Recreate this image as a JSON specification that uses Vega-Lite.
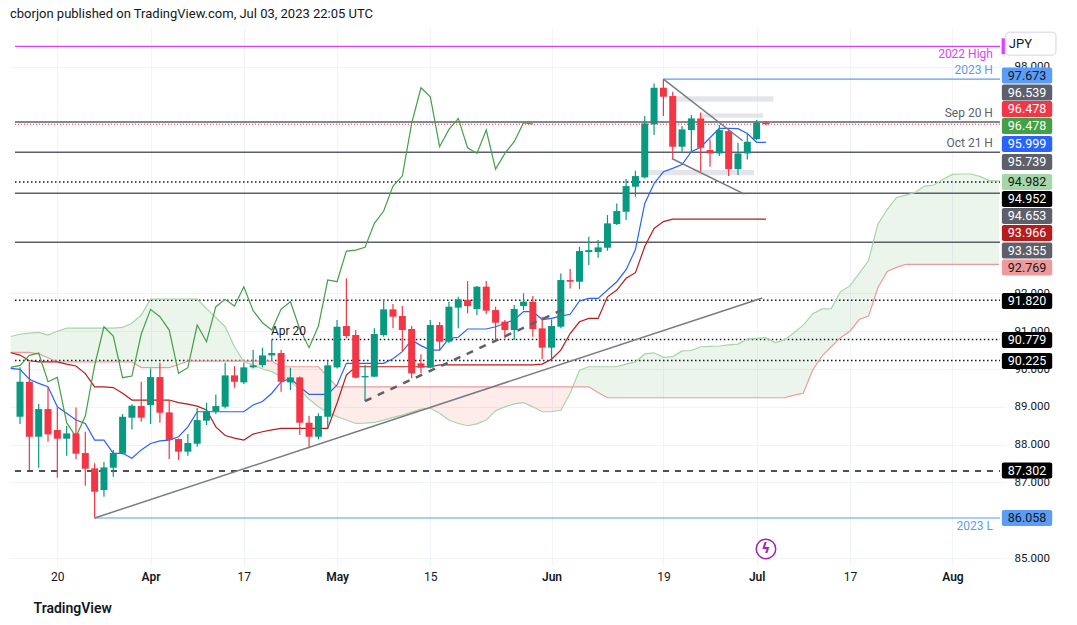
{
  "$schema": "https://vega.github.io/schema/vega-lite/v6.json",
  "width": 995,
  "height": 538,
  "autosize": {"type": "none"},
  "padding": {"left": 10, "top": 27, "right": 72, "bottom": 60},
  "background": "#ffffff",
  "title": {
    "text": "cborjon published on TradingView.com, Jul 03, 2023 22:05 UTC",
    "anchor": "start",
    "frame": "group",
    "offset": 6,
    "fontSize": 13,
    "fontWeight": "normal",
    "color": "#131722"
  },
  "config": {"view": {"stroke": null}, "font": "Roboto"},
  "resolve": {"scale": {"color": "independent"}},
  "datasets": {
    "candles": [
      {"i":1,"o":88.738,"h":90.044,"l":88.544,"c":89.664},
      {"i":2,"o":89.664,"h":90.194,"l":87.328,"c":88.209},
      {"i":3,"o":88.209,"h":89.074,"l":87.389,"c":88.941},
      {"i":4,"o":88.941,"h":89.515,"l":88.077,"c":88.271},
      {"i":5,"o":88.386,"h":88.985,"l":87.125,"c":88.156},
      {"i":6,"o":88.156,"h":88.492,"l":87.707,"c":88.297},
      {"i":7,"o":88.297,"h":88.985,"l":87.61,"c":87.76},
      {"i":8,"o":87.777,"h":88.342,"l":86.913,"c":87.363},
      {"i":9,"o":87.372,"h":87.504,"l":86.058,"c":86.754},
      {"i":10,"o":86.798,"h":87.539,"l":86.622,"c":87.398},
      {"i":11,"o":87.389,"h":87.857,"l":87.151,"c":87.777},
      {"i":12,"o":87.76,"h":88.809,"l":87.742,"c":88.738},
      {"i":13,"o":88.712,"h":89.065,"l":88.403,"c":89.029},
      {"i":14,"o":89.021,"h":89.664,"l":88.606,"c":88.712},
      {"i":15,"o":89.047,"h":90.017,"l":88.544,"c":89.788},
      {"i":16,"o":89.788,"h":90.167,"l":88.58,"c":88.844},
      {"i":17,"o":88.853,"h":89.179,"l":87.619,"c":88.121},
      {"i":18,"o":88.148,"h":88.16,"l":87.592,"c":87.813},
      {"i":19,"o":87.813,"h":88.28,"l":87.707,"c":88.042},
      {"i":20,"o":88.024,"h":88.968,"l":87.945,"c":88.65},
      {"i":21,"o":88.633,"h":89.109,"l":88.518,"c":88.88},
      {"i":22,"o":88.88,"h":89.329,"l":88.809,"c":89.021},
      {"i":23,"o":89.003,"h":90.167,"l":88.959,"c":89.832},
      {"i":24,"o":89.832,"h":90.079,"l":89.506,"c":89.664},
      {"i":25,"o":89.647,"h":90.167,"l":89.603,"c":90.044},
      {"i":26,"o":90.044,"h":90.502,"l":90.017,"c":90.097},
      {"i":27,"o":90.105,"h":90.564,"l":90.044,"c":90.361},
      {"i":28,"o":90.361,"h":90.779,"l":90.238,"c":90.423},
      {"i":29,"o":90.423,"h":90.502,"l":89.4,"c":89.664},
      {"i":30,"o":89.647,"h":90.035,"l":89.444,"c":89.779},
      {"i":31,"o":89.779,"h":89.8,"l":88.253,"c":88.58},
      {"i":32,"o":88.58,"h":88.765,"l":87.901,"c":88.209},
      {"i":33,"o":88.209,"h":88.827,"l":88.139,"c":88.756},
      {"i":34,"o":88.738,"h":90.211,"l":88.43,"c":90.097},
      {"i":35,"o":90.044,"h":91.296,"l":90.017,"c":91.119},
      {"i":36,"o":91.138,"h":92.399,"l":90.812,"c":90.873},
      {"i":37,"o":90.9,"h":91.032,"l":89.75,"c":89.771},
      {"i":38,"o":89.78,"h":90.115,"l":89.154,"c":89.815},
      {"i":39,"o":89.798,"h":91.076,"l":89.78,"c":90.926},
      {"i":40,"o":90.9,"h":91.852,"l":90.856,"c":91.579},
      {"i":41,"o":91.579,"h":91.72,"l":91.076,"c":91.385},
      {"i":42,"o":91.403,"h":91.667,"l":90.459,"c":91.032},
      {"i":43,"o":91.059,"h":91.138,"l":89.753,"c":89.886},
      {"i":44,"o":90.15,"h":90.388,"l":89.886,"c":90.036},
      {"i":45,"o":90.036,"h":91.297,"l":90.018,"c":91.164},
      {"i":46,"o":91.164,"h":91.244,"l":90.485,"c":90.724},
      {"i":47,"o":90.724,"h":91.782,"l":90.68,"c":91.649},
      {"i":48,"o":91.623,"h":91.914,"l":91.076,"c":91.843},
      {"i":49,"o":91.826,"h":92.328,"l":91.473,"c":91.667},
      {"i":50,"o":91.588,"h":92.196,"l":91.429,"c":92.179},
      {"i":51,"o":92.179,"h":92.328,"l":91.455,"c":91.544},
      {"i":52,"o":91.561,"h":91.649,"l":90.741,"c":91.226},
      {"i":53,"o":91.253,"h":91.297,"l":90.812,"c":91.032},
      {"i":54,"o":91.032,"h":91.694,"l":90.768,"c":91.588},
      {"i":55,"o":91.667,"h":92.002,"l":91.561,"c":91.782},
      {"i":56,"o":91.782,"h":91.932,"l":90.856,"c":91.059},
      {"i":57,"o":91.076,"h":91.385,"l":90.256,"c":90.565},
      {"i":58,"o":90.565,"h":91.314,"l":90.256,"c":91.138},
      {"i":59,"o":91.12,"h":92.531,"l":91.076,"c":92.355},
      {"i":60,"o":92.355,"h":92.646,"l":92.134,"c":92.311},
      {"i":61,"o":92.31,"h":93.236,"l":92.116,"c":93.122},
      {"i":62,"o":93.095,"h":93.501,"l":92.751,"c":93.148},
      {"i":63,"o":93.095,"h":93.413,"l":92.945,"c":93.219},
      {"i":64,"o":93.21,"h":94.074,"l":93.13,"c":93.854},
      {"i":65,"o":93.836,"h":94.383,"l":93.81,"c":94.18},
      {"i":66,"o":94.162,"h":95.026,"l":93.942,"c":94.841},
      {"i":67,"o":94.824,"h":95.247,"l":94.559,"c":95.106},
      {"i":68,"o":95.071,"h":96.693,"l":95.044,"c":96.499},
      {"i":69,"o":96.473,"h":97.557,"l":96.19,"c":97.443},
      {"i":70,"o":97.443,"h":97.673,"l":96.693,"c":97.205},
      {"i":71,"o":97.222,"h":97.337,"l":95.573,"c":95.882},
      {"i":72,"o":95.882,"h":96.429,"l":95.75,"c":96.34},
      {"i":73,"o":96.323,"h":96.72,"l":95.723,"c":96.631},
      {"i":74,"o":96.631,"h":96.79,"l":95.22,"c":95.855},
      {"i":75,"o":95.794,"h":96.076,"l":95.353,"c":95.705},
      {"i":76,"o":95.705,"h":96.455,"l":95.635,"c":96.323},
      {"i":77,"o":96.296,"h":96.367,"l":95.106,"c":95.291},
      {"i":78,"o":95.291,"h":95.988,"l":95.132,"c":95.705},
      {"i":79,"o":95.705,"h":96.234,"l":95.547,"c":96.014},
      {"i":80,"o":96.085,"h":96.587,"l":96.058,"c":96.52},
      {"i":81,"o":96.52,"h":96.56,"l":96.45,"c":96.478}
    ],
    "ichi": [
      {"i":0,"t":90.02,"k":90.43},{"i":1,"t":89.99,"k":90.37},{"i":2,"t":89.73,"k":90.22},
      {"i":3,"t":89.62,"k":90.19},{"i":4,"t":89.53,"k":90.19},{"i":5,"t":89.0,"k":90.19},
      {"i":6,"t":88.83,"k":90.13},{"i":7,"t":88.65,"k":90.08},{"i":8,"t":88.56,"k":89.88},
      {"i":9,"t":88.12,"k":89.53},{"i":10,"t":88.12,"k":89.53},{"i":11,"t":87.77,"k":89.51},
      {"i":12,"t":87.77,"k":89.36},{"i":13,"t":87.64,"k":89.18},{"i":14,"t":87.86,"k":89.18},
      {"i":15,"t":88.03,"k":89.18},{"i":16,"t":88.1,"k":89.18},{"i":17,"t":88.12,"k":89.18},
      {"i":18,"t":88.21,"k":89.11},{"i":19,"t":88.47,"k":89.07},{"i":20,"t":88.87,"k":89.02},
      {"i":21,"t":88.87,"k":88.92},{"i":22,"t":88.87,"k":88.47},{"i":23,"t":88.87,"k":88.24},
      {"i":24,"t":88.87,"k":88.17},{"i":25,"t":88.87,"k":88.12},{"i":26,"t":89.05,"k":88.28},
      {"i":27,"t":89.14,"k":88.34},{"i":28,"t":89.36,"k":88.39},{"i":29,"t":89.66,"k":88.43},
      {"i":30,"t":89.75,"k":88.43},{"i":31,"t":89.53,"k":88.43},{"i":32,"t":89.33,"k":88.43},
      {"i":33,"t":89.33,"k":88.43},{"i":34,"t":89.33,"k":88.43},{"i":35,"t":89.58,"k":89.1},
      {"i":36,"t":90.15,"k":89.84},{"i":37,"t":90.15,"k":90.06},{"i":38,"t":90.15,"k":90.06},
      {"i":39,"t":90.15,"k":90.06},{"i":40,"t":90.15,"k":90.06},{"i":41,"t":90.27,"k":90.06},
      {"i":42,"t":90.46,"k":90.06},{"i":43,"t":90.77,"k":90.06},{"i":44,"t":90.62,"k":90.06},
      {"i":45,"t":90.5,"k":90.06},{"i":46,"t":90.5,"k":90.11},{"i":47,"t":90.81,"k":90.11},
      {"i":48,"t":90.84,"k":90.11},{"i":49,"t":91.06,"k":90.11},{"i":50,"t":91.06,"k":90.11},
      {"i":51,"t":91.06,"k":90.11},{"i":52,"t":91.12,"k":90.11},{"i":53,"t":91.21,"k":90.11},
      {"i":54,"t":91.3,"k":90.11},{"i":55,"t":91.52,"k":90.11},{"i":56,"t":91.52,"k":90.11},
      {"i":57,"t":91.31,"k":90.13},{"i":58,"t":91.34,"k":90.26},{"i":59,"t":91.4,"k":90.5},
      {"i":60,"t":91.45,"k":90.94},{"i":61,"t":91.8,"k":91.25},{"i":62,"t":91.87,"k":91.34},
      {"i":63,"t":91.87,"k":91.34},{"i":64,"t":92.09,"k":91.91},{"i":65,"t":92.31,"k":92.09},
      {"i":66,"t":92.63,"k":92.4},{"i":67,"t":93.16,"k":92.55},{"i":68,"t":94.38,"k":93.24},
      {"i":69,"t":94.91,"k":93.72},{"i":70,"t":95.22,"k":93.9},{"i":71,"t":95.31,"k":93.966},
      {"i":72,"t":95.41,"k":93.966},{"i":73,"t":95.75,"k":93.966},{"i":74,"t":95.87,"k":93.966},
      {"i":75,"t":96.12,"k":93.966},{"i":76,"t":96.37,"k":93.966},{"i":77,"t":96.37,"k":93.966},
      {"i":78,"t":96.36,"k":93.966},{"i":79,"t":96.23,"k":93.966},{"i":80,"t":95.999,"k":93.966},
      {"i":81,"t":95.999,"k":93.966}
    ],
    "lag": [
      {"i":0,"v":90.044},{"i":1,"v":90.097},{"i":2,"v":90.361},{"i":3,"v":90.423},{"i":4,"v":89.664},
      {"i":5,"v":89.779},{"i":6,"v":88.58},{"i":7,"v":88.209},{"i":8,"v":88.756},{"i":9,"v":90.097},
      {"i":10,"v":91.119},{"i":11,"v":90.873},{"i":12,"v":89.771},{"i":13,"v":89.815},{"i":14,"v":90.926},
      {"i":15,"v":91.579},{"i":16,"v":91.385},{"i":17,"v":91.032},{"i":18,"v":89.886},{"i":19,"v":90.036},
      {"i":20,"v":91.164},{"i":21,"v":90.724},{"i":22,"v":91.649},{"i":23,"v":91.843},{"i":24,"v":91.667},
      {"i":25,"v":92.179},{"i":26,"v":91.544},{"i":27,"v":91.226},{"i":28,"v":91.032},{"i":29,"v":91.588},
      {"i":30,"v":91.782},{"i":31,"v":91.059},{"i":32,"v":90.565},{"i":33,"v":91.138},{"i":34,"v":92.355},
      {"i":35,"v":92.311},{"i":36,"v":93.122},{"i":37,"v":93.148},{"i":38,"v":93.219},{"i":39,"v":93.854},
      {"i":40,"v":94.18},{"i":41,"v":94.841},{"i":42,"v":95.106},{"i":43,"v":96.499},{"i":44,"v":97.443},
      {"i":45,"v":97.205},{"i":46,"v":95.882},{"i":47,"v":96.34},{"i":48,"v":96.631},{"i":49,"v":95.855},
      {"i":50,"v":95.705},{"i":51,"v":96.323},{"i":52,"v":95.291},{"i":53,"v":95.705},{"i":54,"v":96.014},
      {"i":55,"v":96.52},{"i":56,"v":96.478}
    ],
    "cloud": [
      {"i":0,"a":90.86,"b":90.44,"seg":"g1"},{"i":1,"a":90.92,"b":90.44,"seg":"g1"},
      {"i":2,"a":90.95,"b":90.44,"seg":"g1"},{"i":3,"a":90.97,"b":90.4,"seg":"g1"},
      {"i":4,"a":90.9,"b":90.3,"seg":"g1"},{"i":5,"a":91.0,"b":90.19,"seg":"g1"},
      {"i":6,"a":91.08,"b":90.19,"seg":"g1"},{"i":7,"a":91.08,"b":90.19,"seg":"g1"},
      {"i":8,"a":91.08,"b":90.19,"seg":"g1"},{"i":9,"a":91.08,"b":90.19,"seg":"g1"},
      {"i":10,"a":91.08,"b":90.19,"seg":"g1"},{"i":11,"a":91.08,"b":90.19,"seg":"g1"},
      {"i":12,"a":91.1,"b":90.19,"seg":"g1"},{"i":13,"a":91.21,"b":90.19,"seg":"g1"},
      {"i":14,"a":91.43,"b":90.04,"seg":"g1"},{"i":15,"a":91.85,"b":90.04,"seg":"g1"},
      {"i":16,"a":91.85,"b":90.04,"seg":"g1"},{"i":17,"a":91.85,"b":90.04,"seg":"g1"},
      {"i":18,"a":91.85,"b":90.12,"seg":"g1"},{"i":19,"a":91.85,"b":90.21,"seg":"g1"},
      {"i":20,"a":91.85,"b":90.21,"seg":"g1"},{"i":21,"a":91.6,"b":90.21,"seg":"g1"},
      {"i":22,"a":91.36,"b":90.21,"seg":"g1"},{"i":23,"a":91.12,"b":90.21,"seg":"g1"},
      {"i":24,"a":90.59,"b":90.21,"seg":"g1"},{"i":25,"a":90.19,"b":90.21,"seg":"g1"},
      {"i":25,"a":90.19,"b":90.21,"seg":"r"},{"i":26,"a":90.11,"b":90.21,"seg":"r"},
      {"i":27,"a":90.0,"b":90.21,"seg":"r"},{"i":28,"a":89.93,"b":90.21,"seg":"r"},
      {"i":29,"a":89.8,"b":90.06,"seg":"r"},{"i":30,"a":89.68,"b":90.06,"seg":"r"},
      {"i":31,"a":89.45,"b":90.06,"seg":"r"},{"i":32,"a":89.2,"b":90.06,"seg":"r"},
      {"i":33,"a":89.0,"b":90.06,"seg":"r"},{"i":34,"a":88.85,"b":89.8,"seg":"r"},
      {"i":35,"a":88.74,"b":89.53,"seg":"r"},{"i":36,"a":88.65,"b":89.53,"seg":"r"},
      {"i":37,"a":88.56,"b":89.53,"seg":"r"},{"i":38,"a":88.57,"b":89.53,"seg":"r"},
      {"i":39,"a":88.59,"b":89.53,"seg":"r"},{"i":40,"a":88.65,"b":89.53,"seg":"r"},
      {"i":41,"a":88.72,"b":89.53,"seg":"r"},{"i":42,"a":88.78,"b":89.53,"seg":"r"},
      {"i":43,"a":88.86,"b":89.53,"seg":"r"},{"i":44,"a":88.94,"b":89.53,"seg":"r"},
      {"i":45,"a":88.96,"b":89.53,"seg":"r"},{"i":46,"a":88.83,"b":89.53,"seg":"r"},
      {"i":47,"a":88.65,"b":89.53,"seg":"r"},{"i":48,"a":88.56,"b":89.53,"seg":"r"},
      {"i":49,"a":88.5,"b":89.53,"seg":"r"},{"i":50,"a":88.55,"b":89.53,"seg":"r"},
      {"i":51,"a":88.65,"b":89.53,"seg":"r"},{"i":52,"a":88.9,"b":89.53,"seg":"r"},
      {"i":53,"a":89.0,"b":89.53,"seg":"r"},{"i":54,"a":89.08,"b":89.53,"seg":"r"},
      {"i":55,"a":89.11,"b":89.53,"seg":"r"},{"i":56,"a":89.0,"b":89.53,"seg":"r"},
      {"i":57,"a":88.87,"b":89.53,"seg":"r"},{"i":58,"a":88.87,"b":89.53,"seg":"r"},
      {"i":59,"a":88.91,"b":89.53,"seg":"r"},{"i":60,"a":89.36,"b":89.53,"seg":"r"},
      {"i":60,"a":89.36,"b":89.53,"seg":"g2"},{"i":61,"a":89.97,"b":89.53,"seg":"g2"},
      {"i":62,"a":90.06,"b":89.53,"seg":"g2"},{"i":63,"a":90.06,"b":89.38,"seg":"g2"},
      {"i":64,"a":90.06,"b":89.24,"seg":"g2"},{"i":65,"a":90.06,"b":89.24,"seg":"g2"},
      {"i":66,"a":90.13,"b":89.24,"seg":"g2"},{"i":67,"a":90.19,"b":89.24,"seg":"g2"},
      {"i":68,"a":90.4,"b":89.24,"seg":"g2"},{"i":69,"a":90.43,"b":89.24,"seg":"g2"},
      {"i":70,"a":90.31,"b":89.24,"seg":"g2"},{"i":71,"a":90.33,"b":89.24,"seg":"g2"},
      {"i":72,"a":90.48,"b":89.24,"seg":"g2"},{"i":73,"a":90.49,"b":89.24,"seg":"g2"},
      {"i":74,"a":90.59,"b":89.24,"seg":"g2"},{"i":75,"a":90.6,"b":89.24,"seg":"g2"},
      {"i":76,"a":90.61,"b":89.24,"seg":"g2"},{"i":77,"a":90.64,"b":89.24,"seg":"g2"},
      {"i":78,"a":90.66,"b":89.24,"seg":"g2"},{"i":79,"a":90.79,"b":89.24,"seg":"g2"},
      {"i":80,"a":90.81,"b":89.24,"seg":"g2"},{"i":81,"a":90.83,"b":89.24,"seg":"g2"},
      {"i":82,"a":90.7,"b":89.24,"seg":"g2"},{"i":83,"a":90.77,"b":89.24,"seg":"g2"},
      {"i":84,"a":90.96,"b":89.31,"seg":"g2"},{"i":85,"a":91.16,"b":89.36,"seg":"g2"},
      {"i":86,"a":91.46,"b":89.97,"seg":"g2"},{"i":87,"a":91.59,"b":90.34,"seg":"g2"},
      {"i":88,"a":91.6,"b":90.59,"seg":"g2"},{"i":89,"a":92.05,"b":90.83,"seg":"g2"},
      {"i":90,"a":92.2,"b":91.0,"seg":"g2"},{"i":91,"a":92.53,"b":91.31,"seg":"g2"},
      {"i":92,"a":92.87,"b":91.4,"seg":"g2"},{"i":93,"a":93.83,"b":92.15,"seg":"g2"},
      {"i":94,"a":94.22,"b":92.58,"seg":"g2"},{"i":95,"a":94.54,"b":92.69,"seg":"g2"},
      {"i":96,"a":94.6,"b":92.77,"seg":"g2"},{"i":97,"a":94.67,"b":92.77,"seg":"g2"},
      {"i":98,"a":94.84,"b":92.77,"seg":"g2"},{"i":99,"a":94.87,"b":92.77,"seg":"g2"},
      {"i":100,"a":95.02,"b":92.77,"seg":"g2"},{"i":101,"a":95.15,"b":92.77,"seg":"g2"},
      {"i":102,"a":95.16,"b":92.77,"seg":"g2"},{"i":103,"a":95.16,"b":92.77,"seg":"g2"},
      {"i":104,"a":95.09,"b":92.77,"seg":"g2"},{"i":105,"a":94.98,"b":92.77,"seg":"g2"},
      {"i":106,"a":94.982,"b":92.769,"seg":"g2"}
    ],
    "levels": [
      {"kind":"gray","v":96.539,"from":0.46},
      {"kind":"gray","v":95.739,"from":0.46},
      {"kind":"gray","v":94.653,"from":0.46},
      {"kind":"gray","v":93.355,"from":0.46},
      {"kind":"dot","v":94.952,"from":0.46},
      {"kind":"dot","v":91.82,"from":0.46},
      {"kind":"dot","v":90.779,"from":28},
      {"kind":"dot","v":90.225,"from":0.46},
      {"kind":"dash","v":87.302,"from":0.46},
      {"kind":"price","v":96.478,"from":0.46},
      {"kind":"magenta","v":98.54,"from":0.46},
      {"kind":"blue","v":97.673,"from":70},
      {"kind":"blue","v":86.058,"from":9}
    ],
    "trends": [
      {"kind":"solid","i1":9,"v1":86.058,"i2":80.6,"v2":91.88},
      {"kind":"solid","i1":70,"v1":97.673,"i2":78.5,"v2":96.04},
      {"kind":"solid","i1":70.9,"v1":95.57,"i2":78.7,"v2":94.63},
      {"kind":"dash","i1":38,"v1":89.154,"i2":59.8,"v2":91.64}
    ],
    "bands": [
      {"i1":70.9,"i2":81.8,"v1":97.22,"v2":97.07},
      {"i1":73.9,"i2":80.7,"v1":96.76,"v2":96.65},
      {"i1":68.0,"i2":79.7,"v1":95.265,"v2":95.13}
    ],
    "notes": [
      {"text":"2023 H","i":105.34,"v":97.673,"tone":"blue","side":"above"},
      {"text":"Sep 20 H","i":105.34,"v":96.539,"tone":"gray","side":"above"},
      {"text":"Oct 21 H","i":105.34,"v":95.739,"tone":"gray","side":"above"},
      {"text":"Apr 20","i":31.67,"v":90.779,"tone":"dark","side":"above"},
      {"text":"2022 High","i":105.34,"v":98.54,"tone":"magenta","side":"below"},
      {"text":"2023 L","i":105.34,"v":86.058,"tone":"blue","side":"below"}
    ],
    "tags": [
      {"price":97.673,"at":97.765,"role":"hl"},
      {"price":96.539,"at":97.315,"role":"level"},
      {"price":96.478,"at":96.878,"role":"price"},
      {"price":96.478,"at":96.429,"role":"lag"},
      {"price":95.999,"at":95.952,"role":"conv"},
      {"price":95.739,"at":95.476,"role":"level"},
      {"price":94.982,"at":94.947,"role":"leadA"},
      {"price":94.952,"at":94.497,"role":"pivot"},
      {"price":94.653,"at":94.048,"role":"level"},
      {"price":93.966,"at":93.598,"role":"base"},
      {"price":93.355,"at":93.135,"role":"level"},
      {"price":92.769,"at":92.685,"role":"leadB"},
      {"price":91.82,"at":91.799,"role":"pivot"},
      {"price":90.779,"at":90.767,"role":"pivot"},
      {"price":90.225,"at":90.212,"role":"pivot"},
      {"price":87.302,"at":87.315,"role":"pivot"},
      {"price":86.058,"at":86.058,"role":"hl"}
    ],
    "corner": [{"label":"JPY","v":98.61}],
    "event": [{"i":81,"v":85.24,"icon":"ϟ"}]
  },
  "layer": [
    {
      "data": {"name": "cloud"},
      "mark": {"type": "area", "opacity": 0.1, "clip": true},
      "encoding": {
        "x": {
          "field": "i", "type": "quantitative",
          "scale": {"domain": [0.46, 106.1], "nice": false, "zero": false},
          "axis": {
            "values": [5, 15, 25, 35, 45, 58, 70, 80, 90, 101],
            "labelExpr": "{'5':'20','15':'Apr','25':'17','35':'May','45':'15','58':'Jun','70':'19','80':'Jul','90':'17','101':'Aug'}[datum.value]",
            "labelFontWeight": {"condition": {"test": "indexof([15,35,58,80,101], datum.value) >= 0", "value": 600}, "value": 400},
            "grid": true, "gridColor": "#f0f3fa", "ticks": false, "domain": false,
            "labelColor": "#131722", "labelFontSize": 12, "labelPadding": 6,
            "labelFlush": false, "labelOverlap": false,
            "title": "TradingView", "titleX": 23, "titleY": 43, "titleAlign": "left",
            "titleAnchor": "start", "titleBaseline": "middle", "titleFontSize": 14,
            "titleFontWeight": 600, "titleColor": "#131722"
          }
        },
        "y": {
          "field": "a", "type": "quantitative",
          "scale": {"domain": [84.815, 99.05], "nice": false, "zero": false},
          "axis": {
            "orient": "right",
            "values": [85, 87, 88, 89, 90, 91, 92, 98],
            "format": ".3f", "grid": true, "gridColor": "#f0f3fa", "ticks": false,
            "domain": false, "labelPadding": 9, "labelColor": "#131722",
            "labelFontSize": 11.5, "labelOverlap": false, "title": null
          }
        },
        "y2": {"field": "b"},
        "detail": {"field": "seg"},
        "color": {"condition": {"test": "datum.seg === 'r'", "value": "#f44336"}, "value": "#43a047"}
      }
    },
    {
      "data": {"name": "levels"},
      "transform": [{"filter": "datum.kind === 'gray'"}],
      "mark": {"type": "rule", "color": "#5d606b", "strokeWidth": 1.5, "clip": true},
      "encoding": {
        "x": {"field": "from", "type": "quantitative"},
        "x2": {"datum": 106.1},
        "y": {"field": "v", "type": "quantitative"}
      }
    },
    {
      "data": {"name": "levels"},
      "transform": [{"filter": "datum.kind === 'dot'"}],
      "mark": {"type": "rule", "color": "#131722", "strokeWidth": 1.5, "strokeDash": [1.5, 2.5], "clip": true},
      "encoding": {
        "x": {"field": "from", "type": "quantitative"},
        "x2": {"datum": 106.1},
        "y": {"field": "v", "type": "quantitative"}
      }
    },
    {
      "data": {"name": "levels"},
      "transform": [{"filter": "datum.kind === 'dash'"}],
      "mark": {"type": "rule", "color": "#131722", "strokeWidth": 1.3, "strokeDash": [6, 6], "clip": true},
      "encoding": {
        "x": {"field": "from", "type": "quantitative"},
        "x2": {"datum": 106.1},
        "y": {"field": "v", "type": "quantitative"}
      }
    },
    {
      "data": {"name": "levels"},
      "transform": [{"filter": "datum.kind === 'magenta'"}],
      "mark": {"type": "rule", "color": "#e040fb", "strokeWidth": 1.2, "clip": true},
      "encoding": {
        "x": {"field": "from", "type": "quantitative"},
        "x2": {"datum": 106.1},
        "y": {"field": "v", "type": "quantitative"}
      }
    },
    {
      "data": {"name": "levels"},
      "transform": [{"filter": "datum.kind === 'blue'"}],
      "mark": {"type": "rule", "color": "#5b9cf6", "strokeWidth": 1.2, "clip": true},
      "encoding": {
        "x": {"field": "from", "type": "quantitative"},
        "x2": {"datum": 106.1},
        "y": {"field": "v", "type": "quantitative"}
      }
    },
    {
      "data": {"name": "bands"},
      "mark": {"type": "rect", "color": "#d1d4dc", "opacity": 0.6},
      "encoding": {
        "x": {"field": "i1", "type": "quantitative"},
        "x2": {"field": "i2"},
        "y": {"field": "v1", "type": "quantitative"},
        "y2": {"field": "v2"}
      }
    },
    {
      "data": {"name": "cloud"},
      "mark": {"type": "line", "color": "#a5d6a7", "strokeWidth": 1.2, "clip": true},
      "encoding": {
        "x": {"field": "i", "type": "quantitative"},
        "y": {"field": "a", "type": "quantitative"}
      }
    },
    {
      "data": {"name": "cloud"},
      "mark": {"type": "line", "color": "#ef9a9a", "strokeWidth": 1.2, "clip": true},
      "encoding": {
        "x": {"field": "i", "type": "quantitative"},
        "y": {"field": "b", "type": "quantitative"}
      }
    },
    {
      "data": {"name": "ichi"},
      "mark": {"type": "line", "color": "#b71c1c", "strokeWidth": 1.2, "clip": true},
      "encoding": {
        "x": {"field": "i", "type": "quantitative"},
        "y": {"field": "k", "type": "quantitative"}
      }
    },
    {
      "data": {"name": "ichi"},
      "mark": {"type": "line", "color": "#2962ff", "strokeWidth": 1.2, "clip": true},
      "encoding": {
        "x": {"field": "i", "type": "quantitative"},
        "y": {"field": "t", "type": "quantitative"}
      }
    },
    {
      "data": {"name": "lag"},
      "mark": {"type": "line", "color": "#43a047", "strokeWidth": 1.2, "clip": true},
      "encoding": {
        "x": {"field": "i", "type": "quantitative"},
        "y": {"field": "v", "type": "quantitative"}
      }
    },
    {
      "data": {"name": "candles"},
      "mark": {"type": "rule", "strokeWidth": 1.2, "clip": true},
      "encoding": {
        "x": {"field": "i", "type": "quantitative"},
        "y": {"field": "l", "type": "quantitative"},
        "y2": {"field": "h"},
        "color": {"condition": {"test": "datum.c >= datum.o", "value": "#089981"}, "value": "#f23645"}
      }
    },
    {
      "data": {"name": "candles"},
      "mark": {"type": "bar", "width": 7, "clip": true},
      "encoding": {
        "x": {"field": "i", "type": "quantitative"},
        "y": {"field": "o", "type": "quantitative"},
        "y2": {"field": "c"},
        "color": {"condition": {"test": "datum.c >= datum.o", "value": "#089981"}, "value": "#f23645"}
      }
    },
    {
      "data": {"name": "levels"},
      "transform": [{"filter": "datum.kind === 'price'"}],
      "mark": {"type": "rule", "color": "#f23645", "strokeWidth": 1, "strokeDash": [1, 2], "clip": true},
      "encoding": {
        "x": {"field": "from", "type": "quantitative"},
        "x2": {"datum": 106.1},
        "y": {"field": "v", "type": "quantitative"}
      }
    },
    {
      "data": {"name": "trends"},
      "transform": [{"filter": "datum.kind === 'solid'"}],
      "mark": {"type": "rule", "color": "#787b86", "strokeWidth": 1.5, "clip": true},
      "encoding": {
        "x": {"field": "i1", "type": "quantitative"},
        "x2": {"field": "i2"},
        "y": {"field": "v1", "type": "quantitative"},
        "y2": {"field": "v2"}
      }
    },
    {
      "data": {"name": "trends"},
      "transform": [{"filter": "datum.kind === 'dash'"}],
      "mark": {"type": "rule", "color": "#5d606b", "strokeWidth": 2.5, "strokeDash": [7, 7], "clip": true},
      "encoding": {
        "x": {"field": "i1", "type": "quantitative"},
        "x2": {"field": "i2"},
        "y": {"field": "v1", "type": "quantitative"},
        "y2": {"field": "v2"}
      }
    },
    {
      "data": {"name": "notes"},
      "transform": [{"filter": "datum.side === 'above'"}],
      "mark": {"type": "text", "align": "right", "baseline": "alphabetic", "dy": -5, "fontSize": 12},
      "encoding": {
        "x": {"field": "i", "type": "quantitative"},
        "y": {"field": "v", "type": "quantitative"},
        "text": {"field": "text"},
        "color": {"field": "tone", "type": "nominal", "legend": null,
          "scale": {"domain": ["magenta", "blue", "gray", "dark"], "range": ["#e040fb", "#5b9cf6", "#5d606b", "#131722"]}}
      }
    },
    {
      "data": {"name": "notes"},
      "transform": [{"filter": "datum.side === 'below'"}],
      "mark": {"type": "text", "align": "right", "baseline": "top", "dy": 3, "fontSize": 12},
      "encoding": {
        "x": {"field": "i", "type": "quantitative"},
        "y": {"field": "v", "type": "quantitative"},
        "text": {"field": "text"},
        "color": {"field": "tone", "type": "nominal", "legend": null,
          "scale": {"domain": ["magenta", "blue", "gray", "dark"], "range": ["#e040fb", "#5b9cf6", "#5d606b", "#131722"]}}
      }
    },
    {
      "data": {"name": "event"},
      "mark": {"type": "point", "shape": "circle", "size": 380, "filled": false, "fill": "#ffffff", "stroke": "#9c27b0", "strokeWidth": 1.5, "opacity": 1},
      "encoding": {
        "x": {"field": "i", "type": "quantitative"},
        "y": {"field": "v", "type": "quantitative"}
      }
    },
    {
      "data": {"name": "event"},
      "mark": {"type": "text", "align": "center", "baseline": "middle", "fontSize": 14, "fontWeight": "bold", "color": "#9c27b0", "font": "DejaVu Sans"},
      "encoding": {
        "x": {"field": "i", "type": "quantitative"},
        "y": {"field": "v", "type": "quantitative"},
        "text": {"field": "icon"}
      }
    },
    {
      "data": {"name": "tags"},
      "mark": {"type": "rect", "yOffset": -8, "y2Offset": 8, "cornerRadius": 2},
      "encoding": {
        "x": {"datum": 106.3},
        "x2": {"datum": 111.7},
        "y": {"field": "at", "type": "quantitative"},
        "y2": {"field": "at"},
        "color": {"field": "role", "type": "nominal", "legend": null,
          "scale": {
            "domain": ["hl", "level", "price", "lag", "conv", "leadA", "pivot", "base", "leadB"],
            "range": ["#5b9cf6", "#5d606b", "#f23645", "#43a047", "#2962ff", "#a5d6a7", "#000000", "#b71c1c", "#ef9a9a"]
          }}
      }
    },
    {
      "data": {"name": "tags"},
      "mark": {"type": "text", "align": "center", "baseline": "middle", "fontSize": 12.5},
      "encoding": {
        "x": {"datum": 109.0},
        "y": {"field": "at", "type": "quantitative"},
        "text": {"field": "price", "type": "quantitative", "format": ".3f"},
        "color": {"condition": {"test": "indexof(['hl','leadA','leadB'], datum.role) >= 0", "value": "#131722"}, "value": "#ffffff"}
      }
    },
    {
      "data": {"name": "corner"},
      "mark": {"type": "rect", "yOffset": -11.5, "y2Offset": 11.5, "cornerRadius": 4, "fill": "#ffffff", "stroke": "#e0e3eb", "strokeWidth": 1.5},
      "encoding": {
        "x": {"datum": 106.7},
        "x2": {"datum": 112.1},
        "y": {"field": "v", "type": "quantitative"},
        "y2": {"field": "v"}
      }
    },
    {
      "data": {"name": "corner"},
      "mark": {"type": "rect", "yOffset": -8, "y2Offset": 8, "fill": "#e040fb"},
      "encoding": {
        "x": {"datum": 106.27},
        "x2": {"datum": 106.62},
        "y": {"datum": 98.54},
        "y2": {"datum": 98.54}
      }
    },
    {
      "data": {"name": "corner"},
      "mark": {"type": "text", "align": "left", "baseline": "middle", "fontSize": 13, "color": "#131722"},
      "encoding": {
        "x": {"datum": 107.05},
        "y": {"field": "v", "type": "quantitative"},
        "text": {"field": "label"}
      }
    }
  ]
}
